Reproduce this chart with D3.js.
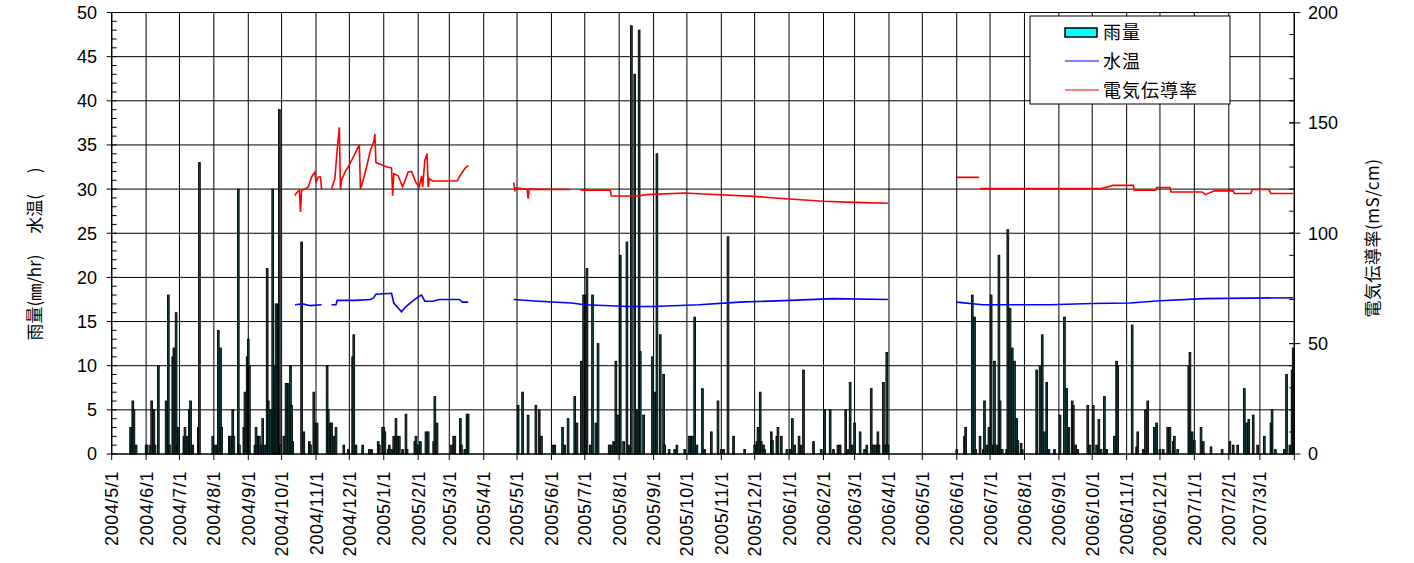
<!DOCTYPE html>
<html>
<head>
<meta charset="utf-8">
<script src="https://cdn.jsdelivr.net/npm/d3@7"></script>
<style>
  body { margin: 0; background: #fff; }
  svg { display: block; }
  text { font-family: "Liberation Sans", "Noto Sans CJK JP", sans-serif; fill: #000; }
  .jp { font-family: "Noto Sans CJK JP", "Liberation Sans", sans-serif; }
</style>
</head>
<body>
<div id="root"></div>
<script>
// daily rainfall (mm/hr), only days with rain
const rain2004 = [
  ['2004-05-18', 3], ['2004-05-19', 1], ['2004-05-20', 6], ['2004-05-21', 5], ['2004-05-23', 1],
  ['2004-06-01', 1], ['2004-06-02', 1], ['2004-06-05', 1], ['2004-06-06', 6], ['2004-06-08', 5], ['2004-06-09', 1],
  ['2004-06-12', 10], ['2004-06-19', 6], ['2004-06-21', 18], ['2004-06-22', 1], ['2004-06-25', 11], ['2004-06-26', 12],
  ['2004-06-28', 16], ['2004-06-29', 1], ['2004-06-30', 3],
  ['2004-07-05', 2], ['2004-07-06', 3], ['2004-07-08', 2], ['2004-07-10', 5], ['2004-07-11', 6], ['2004-07-13', 1],
  ['2004-07-18', 3], ['2004-07-19', 33], ['2004-07-31', 2],
  ['2004-08-02', 1], ['2004-08-04', 1], ['2004-08-05', 14], ['2004-08-07', 12], ['2004-08-08', 3], ['2004-08-15', 2],
  ['2004-08-16', 2], ['2004-08-18', 5], ['2004-08-19', 2], ['2004-08-23', 30], ['2004-08-24', 1], ['2004-08-28', 3],
  ['2004-08-29', 7], ['2004-08-31', 11],
  ['2004-09-01', 13], ['2004-09-02', 10], ['2004-09-07', 1], ['2004-09-08', 3], ['2004-09-10', 2], ['2004-09-11', 2],
  ['2004-09-13', 1], ['2004-09-14', 4], ['2004-09-16', 1], ['2004-09-18', 21], ['2004-09-19', 6], ['2004-09-21', 5],
  ['2004-09-23', 30], ['2004-09-24', 5], ['2004-09-25', 10], ['2004-09-26', 17], ['2004-09-28', 17], ['2004-09-29', 39],
  ['2004-09-30', 1],
  ['2004-10-03', 2], ['2004-10-05', 8], ['2004-10-07', 8], ['2004-10-09', 10], ['2004-10-10', 5.5], ['2004-10-11', 1.4],
  ['2004-10-19', 24], ['2004-10-21', 2.5], ['2004-10-26', 1.4], ['2004-10-27', 1], ['2004-10-30', 7], ['2004-10-31', 3.5],
  ['2004-11-02', 3.5], ['2004-11-11', 10], ['2004-11-12', 5], ['2004-11-14', 3.5], ['2004-11-15', 3.5], ['2004-11-17', 2],
  ['2004-11-19', 3], ['2004-11-26', 1], ['2004-11-30', 0.5],
  ['2004-12-04', 11], ['2004-12-05', 13.5], ['2004-12-07', 1], ['2004-12-13', 1], ['2004-12-19', 0.5], ['2004-12-21', 0.5],
  ['2004-12-27', 1.4], ['2004-12-28', 1], ['2004-12-31', 3]
];
const rain2005 = [
  ['2005-01-01', 3], ['2005-01-02', 2.5], ['2005-01-05', 0.5], ['2005-01-06', 1], ['2005-01-08', 0.5], ['2005-01-10', 2],
  ['2005-01-12', 4], ['2005-01-13', 2], ['2005-01-15', 2], ['2005-01-18', 0.5], ['2005-01-21', 4.5], ['2005-01-22', 0.5],
  ['2005-01-29', 1.4], ['2005-01-30', 2],
  ['2005-02-01', 1], ['2005-02-03', 1.4], ['2005-02-08', 2.5], ['2005-02-10', 2.5], ['2005-02-15', 1.4], ['2005-02-16', 6.5],
  ['2005-02-18', 3.5],
  ['2005-03-03', 1], ['2005-03-05', 2], ['2005-03-06', 2], ['2005-03-11', 4], ['2005-03-12', 1], ['2005-03-15', 0.5],
  ['2005-03-17', 4.5], ['2005-03-18', 4.5],
  ['2005-05-02', 5.5], ['2005-05-06', 7], ['2005-05-11', 4.4], ['2005-05-18', 5.5], ['2005-05-21', 5], ['2005-05-23', 2],
  ['2005-06-02', 1], ['2005-06-04', 1], ['2005-06-11', 3], ['2005-06-13', 1], ['2005-06-16', 4], ['2005-06-22', 6.5],
  ['2005-06-24', 3.5], ['2005-06-28', 10.5], ['2005-06-30', 18],
  ['2005-07-02', 18], ['2005-07-03', 21], ['2005-07-06', 1], ['2005-07-08', 18], ['2005-07-11', 3.5], ['2005-07-13', 12.5],
  ['2005-07-23', 1], ['2005-07-25', 1], ['2005-07-27', 1.4], ['2005-07-29', 10.5], ['2005-07-31', 4.4],
  ['2005-08-02', 22.5], ['2005-08-05', 1.4], ['2005-08-08', 24], ['2005-08-10', 1], ['2005-08-12', 48.5], ['2005-08-15', 43],
  ['2005-08-17', 5], ['2005-08-19', 48], ['2005-08-20', 11.6], ['2005-08-23', 4.4], ['2005-08-31', 11],
  ['2005-09-02', 7], ['2005-09-04', 34], ['2005-09-07', 13.5], ['2005-09-10', 9], ['2005-09-11', 1], ['2005-09-15', 0.5],
  ['2005-09-20', 0.5], ['2005-09-22', 1], ['2005-09-29', 0.5],
  ['2005-10-03', 2], ['2005-10-05', 2], ['2005-10-06', 2], ['2005-10-08', 15.5], ['2005-10-10', 1], ['2005-10-15', 7.4],
  ['2005-10-17', 0.5], ['2005-10-23', 2.5], ['2005-10-29', 6],
  ['2005-11-01', 0.5], ['2005-11-03', 0.5], ['2005-11-07', 24.6], ['2005-11-12', 2], ['2005-11-22', 0.5],
  ['2005-12-01', 1], ['2005-12-03', 1.4], ['2005-12-04', 3], ['2005-12-06', 7], ['2005-12-07', 1.4], ['2005-12-09', 1],
  ['2005-12-10', 0.5], ['2005-12-16', 2.5], ['2005-12-17', 1.5], ['2005-12-21', 2], ['2005-12-22', 3], ['2005-12-25', 2],
  ['2005-12-30', 0.5]
];
const rain2006 = [
  ['2006-01-02', 0.5], ['2006-01-04', 4], ['2006-01-06', 1], ['2006-01-10', 2], ['2006-01-12', 1], ['2006-01-14', 9.5],
  ['2006-01-23', 1.4], ['2006-01-30', 0.5],
  ['2006-02-02', 5], ['2006-02-07', 5], ['2006-02-10', 0.5], ['2006-02-14', 1], ['2006-02-16', 1], ['2006-02-21', 5],
  ['2006-02-23', 0.5], ['2006-02-25', 8.1], ['2006-02-27', 1],
  ['2006-03-01', 3.5], ['2006-03-06', 2.5], ['2006-03-10', 0.5], ['2006-03-12', 1], ['2006-03-16', 7.4], ['2006-03-18', 1],
  ['2006-03-20', 1], ['2006-03-22', 2.5], ['2006-03-23', 1], ['2006-03-27', 8.1], ['2006-03-28', 1], ['2006-03-30', 11.5],
  ['2006-03-31', 1],
  ['2006-06-01', 0.5], ['2006-06-08', 2], ['2006-06-09', 3], ['2006-06-15', 18], ['2006-06-17', 15.5], ['2006-06-18', 0.5],
  ['2006-06-22', 2], ['2006-06-25', 0.5], ['2006-06-26', 6], ['2006-06-28', 1], ['2006-06-30', 3],
  ['2006-07-02', 18], ['2006-07-04', 1], ['2006-07-05', 10.5], ['2006-07-07', 1], ['2006-07-09', 22.5], ['2006-07-10', 6],
  ['2006-07-12', 0.5], ['2006-07-16', 0.5], ['2006-07-17', 25.4], ['2006-07-19', 16.5], ['2006-07-21', 12],
  ['2006-07-23', 10.5], ['2006-07-25', 4], ['2006-07-26', 1.5], ['2006-07-29', 1.2], ['2006-07-30', 0.5],
  ['2006-08-12', 9.5], ['2006-08-15', 9.9], ['2006-08-17', 13.5], ['2006-08-19', 2.5], ['2006-08-21', 8.1],
  ['2006-08-23', 0.5], ['2006-08-28', 0.5],
  ['2006-09-02', 4.4], ['2006-09-06', 15.5], ['2006-09-08', 7.4], ['2006-09-10', 3], ['2006-09-13', 6], ['2006-09-14', 5.5],
  ['2006-09-16', 1], ['2006-09-18', 0.5], ['2006-09-27', 5.5], ['2006-09-29', 1],
  ['2006-10-02', 5.5], ['2006-10-05', 1], ['2006-10-07', 3.9], ['2006-10-09', 0.5], ['2006-10-12', 6.5], ['2006-10-14', 0.5],
  ['2006-10-21', 2], ['2006-10-23', 10.5], ['2006-10-24', 10],
  ['2006-11-06', 14.6], ['2006-11-10', 0.8], ['2006-11-11', 2.5], ['2006-11-16', 0.5], ['2006-11-18', 5], ['2006-11-20', 6],
  ['2006-11-26', 3], ['2006-11-28', 3.5],
  ['2006-12-01', 0.5], ['2006-12-04', 0.5], ['2006-12-08', 3], ['2006-12-10', 3], ['2006-12-13', 1.4], ['2006-12-14', 2],
  ['2006-12-17', 0.5], ['2006-12-27', 9.9], ['2006-12-28', 11.5], ['2006-12-30', 2.5]
];
const rain2007 = [
  ['2007-01-01', 1.5], ['2007-01-07', 3], ['2007-01-09', 1.4], ['2007-01-16', 0.8], ['2007-01-26', 0.5],
  ['2007-02-02', 1.4], ['2007-02-05', 1], ['2007-02-09', 1], ['2007-02-15', 7.4], ['2007-02-17', 3.5], ['2007-02-19', 3.9],
  ['2007-02-23', 4.4], ['2007-02-27', 1],
  ['2007-03-05', 2], ['2007-03-11', 3.5], ['2007-03-12', 5], ['2007-03-15', 0.5], ['2007-03-23', 0.5], ['2007-03-25', 9],
  ['2007-03-28', 1], ['2007-03-30', 9.5], ['2007-03-31', 12]
];

// water temperature (left axis); null = no record
const waterTemp = [
  ['2004-10-13', 16.9], ['2004-10-20', 17.0], ['2004-10-27', 16.8], ['2004-11-06', 16.9], null,
  ['2004-11-15', 16.9], ['2004-11-19', 16.9], ['2004-11-20', 17.4], ['2004-12-06', 17.4], ['2004-12-20', 17.5],
  ['2004-12-23', 17.7], ['2004-12-25', 18.1], ['2005-01-08', 18.2], ['2005-01-10', 17.1], ['2005-01-17', 16.1],
  ['2005-01-21', 16.7], ['2005-01-27', 17.3], ['2005-02-01', 17.8], ['2005-02-04', 18.0], ['2005-02-07', 17.3],
  ['2005-02-14', 17.3], ['2005-02-20', 17.5], ['2005-03-10', 17.5], ['2005-03-13', 17.2], ['2005-03-18', 17.2], null,
  ['2005-04-28', 17.5], ['2005-05-20', 17.3], ['2005-06-19', 17.1], ['2005-07-01', 16.9], ['2005-08-10', 16.7],
  ['2005-09-01', 16.7], ['2005-10-12', 16.9], ['2005-11-17', 17.2], ['2006-01-02', 17.4], ['2006-02-10', 17.6],
  ['2006-03-31', 17.5], null,
  ['2006-06-01', 17.2], ['2006-06-24', 16.9], ['2006-08-24', 16.9], ['2006-10-01', 17.05], ['2006-11-04', 17.1],
  ['2006-12-01', 17.35], ['2007-01-10', 17.6], ['2007-03-31', 17.7]
];

// electric conductivity (right axis, mS/cm); null = no record
const conductivity = [
  ['2004-10-13', 117], ['2004-10-14', 118], ['2004-10-17', 119.5], ['2004-10-18', 109.6], ['2004-10-19', 119.5],
  ['2004-10-22', 120], ['2004-10-25', 121], ['2004-10-28', 125.5], ['2004-10-31', 127.7], ['2004-11-01', 123],
  ['2004-11-03', 125.5], ['2004-11-05', 125.5], ['2004-11-06', 120], null,
  ['2004-11-15', 120.2], ['2004-11-18', 124.8], ['2004-11-20', 137.6], ['2004-11-22', 148], ['2004-11-23', 120],
  ['2004-11-24', 124], ['2004-11-27', 127.7], ['2004-11-30', 130], ['2004-12-05', 135], ['2004-12-10', 140],
  ['2004-12-11', 120], ['2004-12-14', 125], ['2004-12-17', 131], ['2004-12-20', 137.6], ['2004-12-23', 141.5],
  ['2004-12-24', 145], ['2004-12-25', 132], ['2004-12-30', 131], ['2005-01-04', 130], ['2005-01-08', 129.6],
  ['2005-01-09', 117], ['2005-01-10', 127], ['2005-01-14', 126], ['2005-01-18', 121], ['2005-01-23', 127.8],
  ['2005-01-26', 128], ['2005-01-30', 123], ['2005-02-02', 121], ['2005-02-04', 126], ['2005-02-05', 121],
  ['2005-02-07', 133], ['2005-02-09', 136], ['2005-02-10', 121], ['2005-02-11', 124.7], ['2005-02-14', 123.7],
  ['2005-03-08', 123.7], ['2005-03-11', 126.3], ['2005-03-15', 129.3], ['2005-03-18', 130.8], null,
  ['2005-04-28', 123], ['2005-04-29', 119], ['2005-04-30', 120.6], ['2005-05-10', 120], ['2005-05-11', 115.7],
  ['2005-05-12', 120], ['2005-06-18', 119.8], null,
  ['2005-06-27', 119.5], ['2005-07-24', 119.5], ['2005-07-25', 116.9], ['2005-08-17', 116.9], ['2005-08-26', 117.5],
  ['2005-09-29', 118.2], ['2005-10-16', 117.8], ['2005-12-01', 116.7], ['2006-01-01', 115.5], ['2006-02-01', 114.5],
  ['2006-03-01', 114], ['2006-03-31', 113.6], null,
  ['2006-06-01', 125.3], ['2006-06-21', 125.3], null,
  ['2006-06-22', 120.2], ['2006-10-08', 120.2], ['2006-10-15', 121], ['2006-10-20', 121.7], ['2006-11-07', 121.7],
  ['2006-11-08', 119.5], ['2006-11-27', 119.5], ['2006-11-28', 120.7], ['2006-12-10', 120.7], ['2006-12-11', 118.7],
  ['2007-01-08', 118.7], ['2007-01-11', 117.5], ['2007-01-19', 119.2], ['2007-02-05', 119.2], ['2007-02-06', 118],
  ['2007-02-21', 118], ['2007-02-22', 119.8], ['2007-03-09', 119.8], ['2007-03-11', 118], ['2007-03-31', 118]
];

const leftTicks = [0, 5, 10, 15, 20, 25, 30, 35, 40, 45, 50];
const rightTicks = [0, 50, 100, 150, 200];
const legendItems = ['雨量', '水温', '電気伝導率'];

const W = 1414, H = 563;
const parse = d3.utcParse('%Y-%m-%d');
const fmt = d3.utcFormat('%Y/%-m/%-d');
const start = parse('2004-05-01'), end = parse('2007-04-01');

const x = d3.scaleUtc().domain([start, end]).range([111.7, 1294.3]);
const yL = d3.scaleLinear().domain([0, 50]).range([454, 12.5]);
const yR = d3.scaleLinear().domain([0, 200]).range([454, 12.5]);

const svg = d3.select('#root').append('svg').attr('width', W).attr('height', H);

const rain = [...rain2004, ...rain2005, ...rain2006, ...rain2007].map(([d, v]) => ({ date: parse(d), v }));
const months = d3.utcMonths(start, d3.utcDay.offset(end, 1));

// grid
const grid = svg.append('g').attr('stroke', '#000').attr('stroke-width', 1);
grid.selectAll('line.h').data(leftTicks.slice(1)).enter().append('line')
  .attr('x1', x.range()[0]).attr('x2', x.range()[1])
  .attr('y1', d => yL(d)).attr('y2', d => yL(d));
grid.selectAll('line.v').data(months).enter().append('line')
  .attr('x1', d => x(d)).attr('x2', d => x(d))
  .attr('y1', yL(0)).attr('y2', yL(50));

// rain bars
const bw = 1.7;
svg.append('g').selectAll('rect').data(rain).enter().append('rect')
  .attr('x', d => x(d.date) - bw / 2)
  .attr('width', bw)
  .attr('y', d => yL(d.v))
  .attr('height', d => yL(0) - yL(d.v))
  .attr('fill', '#154b4b')
  .attr('stroke', '#000')
  .attr('stroke-width', 0.9);

// lines
const toPts = arr => arr.map(p => (p ? { date: parse(p[0]), v: p[1] } : null));
const lineL = d3.line().defined(d => d).x(d => x(d.date)).y(d => yL(d.v));
const lineR = d3.line().defined(d => d).x(d => x(d.date)).y(d => yR(d.v));
svg.append('path').datum(toPts(waterTemp)).attr('d', lineL)
  .attr('fill', 'none').attr('stroke', '#0000ff').attr('stroke-width', 1.6);
svg.append('path').datum(toPts(conductivity)).attr('d', lineR)
  .attr('fill', 'none').attr('stroke', '#ff0000').attr('stroke-width', 1.6);

// axes
const ax = svg.append('g').attr('stroke', '#000');
const x0 = x.range()[0], x1 = x.range()[1];
ax.append('line').attr('x1', x0).attr('x2', x0).attr('y1', yL(0)).attr('y2', yL(50)).attr('stroke-width', 1.3);
ax.append('line').attr('x1', x1).attr('x2', x1).attr('y1', yL(0)).attr('y2', yL(50)).attr('stroke-width', 1.3);
ax.append('line').attr('x1', x0).attr('x2', x1).attr('y1', yL(0)).attr('y2', yL(0)).attr('stroke-width', 1.5);

// left ticks: major outside, minor inside
ax.selectAll('line.lmaj').data(leftTicks).enter().append('line')
  .attr('x1', x0 - 5).attr('x2', x0).attr('y1', d => yL(d)).attr('y2', d => yL(d));
ax.selectAll('line.lmin').data(d3.range(0, 51)).enter().append('line')
  .attr('x1', x0).attr('x2', x0 + 5).attr('y1', d => yL(d)).attr('y2', d => yL(d));
// right ticks: major crossing, minor inside
ax.selectAll('line.rmaj').data(rightTicks).enter().append('line')
  .attr('x1', x1 - 5).attr('x2', x1 + 6).attr('y1', d => yR(d)).attr('y2', d => yR(d));
ax.selectAll('line.rmin').data(d3.range(0, 201, 10)).enter().append('line')
  .attr('x1', x1 - 5).attr('x2', x1).attr('y1', d => yR(d)).attr('y2', d => yR(d));
// x ticks
ax.selectAll('line.xt').data(months).enter().append('line')
  .attr('x1', d => x(d)).attr('x2', d => x(d)).attr('y1', yL(0)).attr('y2', yL(0) + 6);

svg.append('g').selectAll('text').data(leftTicks).enter().append('text')
  .attr('x', 97).attr('y', d => yL(d)).attr('dy', '0.36em')
  .attr('text-anchor', 'end').attr('font-size', 18).text(d => d);
svg.append('g').selectAll('text').data(rightTicks).enter().append('text')
  .attr('x', 1308).attr('y', d => yR(d)).attr('dy', '0.36em')
  .attr('font-size', 18).text(d => d);

svg.append('g').selectAll('text').data(months.slice(0, -1)).enter().append('text')
  .attr('transform', d => `translate(${x(d)},471) rotate(-90)`)
  .attr('dy', '0.36em').attr('text-anchor', 'end')
  .attr('font-size', 18).attr('letter-spacing', 0.6)
  .text(d => fmt(d));

// axis titles
svg.append('text').attr('class', 'jp')
  .attr('transform', 'translate(35,254) rotate(-90)')
  .attr('dy', '0.36em').attr('text-anchor', 'middle').attr('font-size', 17)
  .text('雨量(㎜/hr)　 水温(　 )');
svg.append('text').attr('class', 'jp')
  .attr('transform', 'translate(1373,238) rotate(-90)')
  .attr('dy', '0.36em').attr('text-anchor', 'middle').attr('font-size', 17).attr('letter-spacing', 0.5)
  .text('電気伝導率(mS/cm)');

// legend
const lg = svg.append('g').attr('transform', 'translate(1030,16)');
lg.append('rect').attr('width', 200).attr('height', 88).attr('fill', '#fff').attr('stroke', '#000').attr('stroke-width', 1);
lg.append('rect').attr('x', 35).attr('y', 12).attr('width', 32).attr('height', 9)
  .attr('fill', '#00ffff').attr('stroke', '#000').attr('stroke-width', 1.5);
lg.append('line').attr('x1', 35).attr('x2', 69).attr('y1', 45).attr('y2', 45).attr('stroke', '#0000ff').attr('stroke-width', 1.2);
lg.append('line').attr('x1', 35).attr('x2', 69).attr('y1', 74).attr('y2', 74).attr('stroke', '#ff0000').attr('stroke-width', 1.2);
lg.selectAll('text').data(legendItems).enter().append('text').attr('class', 'jp')
  .attr('x', 73).attr('y', (d, i) => 17 + i * 29).attr('dy', '0.36em')
  .attr('font-size', 18).attr('letter-spacing', 1).text(d => d);
</script>
</body>
</html>
